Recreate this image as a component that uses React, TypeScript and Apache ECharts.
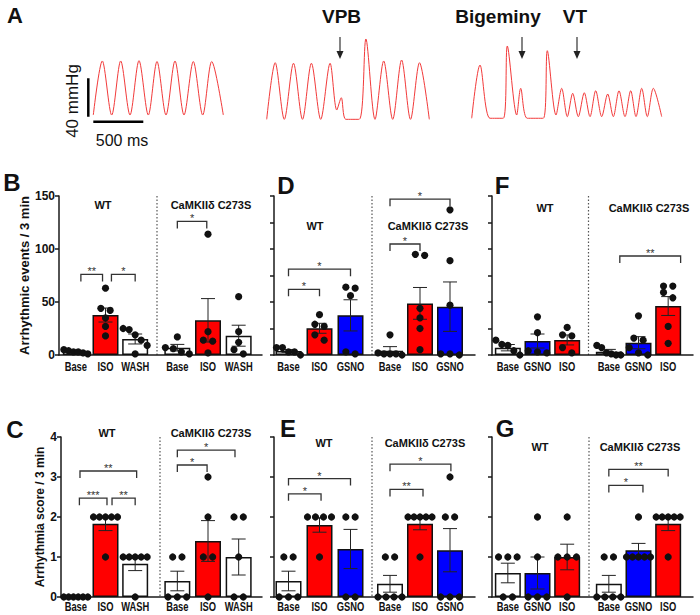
import React, { useEffect, useRef } from 'react';
import * as echarts from 'echarts';

const FONT = '"Liberation Sans", Arial, Helvetica, sans-serif';

// ---------------- Panel A: pressure traces [time ms, pressure mmHg] ----------------
const traceNormal: number[][] = [
  [333, 10.4], [423, 66.7], [517, 10.4], [607, 66.7], [700, 10.4], [790, 67.0], [883, 10.4],
  [970, 66.1], [1060, 10.4], [1150, 66.7], [1240, 10.4], [1333, 66.1], [1427, 10.4], [1517, 66.1], [1633, 10.4],
];
const traceVPB: number[][] = [
  [2067, 5.9], [2152, 64.9], [2243, 5.9], [2335, 64.3], [2425, 5.9], [2514, 64.3], [2607, 5.9],
  [2701, 64.3], [2768, 15.6], [2813, 28.4], [2858, 5.9], [2992, 5.9], [3059, 89.6], [3150, 5.9],
  [3237, 66.7], [3327, 5.9], [3416, 67.7], [3505, 5.9], [3595, 64.9], [3693, 5.9],
];
const traceBigeminyVT: number[][] = [
  [4117, 7.0], [4200, 62.5], [4300, 7.0], [4433, 7.0], [4473, 82.3], [4567, 10.4], [4607, 38.2],
  [4673, 7.0], [4833, 7.0], [4873, 77.4], [4960, 10.4], [5017, 38.2], [5073, 8.7], [5127, 33.0],
  [5183, 8.7], [5243, 33.6], [5300, 8.7], [5357, 35.7], [5417, 8.7], [5477, 32.3], [5533, 8.7],
  [5590, 35.7], [5650, 8.7], [5707, 35.7], [5760, 8.7], [5817, 38.2], [5873, 8.7], [5933, 38.2], [6017, 8.7],
];
const scaleBarPressure: number[][] = [[283, 8.6], [283, 48.6]]; // 40 mmHg
const scaleBarTime: number[][] = [[333, 3.4], [833, 3.4]]; // 500 ms

// ---------------- Categories ----------------
const catsWash = ['Base', 'ISO', 'WASH'];
const catsIsoGsno = ['Base', 'ISO', 'GSNO'];
const catsGsnoIso = ['Base', 'GSNO', 'ISO'];
const groupNames = ['WT', 'CaMKIIδ C273S'];

// ---------------- B: arrhythmic events, ISO / WASH ----------------
const bWtMean = [3.5, 37.7, 15.1];
const bWtSem = [0.7, 6.6, 4.7];
const bWtDots = [[5, 4, 3, 3, 2, 1], [63, 44, 42, 35, 27, 18], [25, 24, 19, 14, 9, 1]];
const bMutMean = [6.9, 32.7, 18.2];
const bMutSem = [3.1, 20.5, 9.9];
const bMutDots = [[17, 7, 6, 3, 1], [114, 22, 14, 13, 2], [55, 22, 12, 5, 1]];
const bBrackets: [number, number, number, number, string][] = [
  [0, 0.17, 0.9, 76, '**'], [0, 1.2, 2.0, 76, '*'], [1, 0, 0.96, 126, '*'],
];

// ---------------- C: arrhythmia score, ISO / WASH ----------------
const cWtMean = [0, 1.83, 0.83];
const cWtSem = [0, 0.17, 0.17];
const cWtDots = [[0, 0, 0, 0, 0, 0], [2, 2, 2, 2, 2, 1], [1, 1, 1, 1, 1, 0]];
const cMutMean = [0.4, 1.4, 1.0];
const cMutSem = [0.245, 0.51, 0.45];
const cMutDots = [[1, 1, 0, 0, 0], [3, 2, 1, 1, 0], [2, 2, 1, 0, 0]];
const cBrackets: [number, number, number, number, string][] = [
  [0, 0.14, 2.05, 3.15, '**'], [0, 0.12, 1.05, 2.47, '***'], [0, 1.22, 2.0, 2.47, '**'],
  [1, 0, 0.97, 3.3, '*'], [1, 0, 1.88, 3.67, '*'],
];

// ---------------- D: arrhythmic events, ISO / GSNO ----------------
const dWtMean = [3.8, 25.2, 37.4];
const dWtSem = [1.3, 4.7, 14.7];
const dWtDots = [[7, 7, 3, 3, 0], [38, 29, 27, 19, 14], [64, 63, 56, 3, 1]];
const dMutMean = [4.0, 48.7, 45.6];
const dMutSem = [3.9, 15.0, 23.3];
const dMutDots = [[19, 2, 1, 1, 1, 0], [95, 94, 44, 35, 25, 5], [137, 89, 47, 1, 1, 0]];
const dBrackets: [number, number, number, number, string][] = [
  [0, 0, 1, 62, '*'], [0, 0, 2, 81, '*'], [1, 0, 1, 104.7, '*'], [1, 0, 2, 147, '*'],
];

// ---------------- E: arrhythmia score, ISO / GSNO ----------------
const eWtMean = [0.4, 1.8, 1.2];
const eWtSem = [0.245, 0.18, 0.49];
const eWtDots = [[1, 1, 0, 0, 0], [2, 2, 2, 2, 1], [2, 2, 0, 0]];
const eMutMean = [0.33, 1.83, 1.17];
const eMutSem = [0.21, 0.15, 0.54];
const eMutDots = [[1, 1, 0, 0, 0, 0], [2, 2, 2, 2, 2, 1], [3, 2, 2, 0, 0, 0]];
const eBrackets: [number, number, number, number, string][] = [
  [0, 0, 1.05, 2.58, '*'], [0, 0, 2, 2.96, '*'], [1, 0, 1.1, 2.69, '**'], [1, 0, 2.03, 3.32, '*'],
];

// ---------------- F: arrhythmic events, GSNO / ISO ----------------
const fWtMean = [6.9, 13.2, 14.2];
const fWtSem = [3.0, 6.6, 4.7];
const fWtDots = [[14, 10, 9, 4, 0], [36, 21, 4, 3, 2], [26, 19, 18, 7, 2]];
const fMutMean = [3.1, 11.6, 46.2];
const fMutSem = [2.2, 5.7, 8.9];
const fMutDots = [[9, 7, 2, 1, 0, 0], [37, 16, 14, 7, 2, 0], [65, 65, 59, 54, 27, 11]];
const fBrackets: [number, number, number, number, string][] = [[1, 0.37, 2.42, 93.4, '**']];

// ---------------- G: arrhythmia score, GSNO / ISO ----------------
const gWtMean = [0.6, 0.6, 1.0];
const gWtSem = [0.245, 0.4, 0.32];
const gWtDots = [[1, 1, 1, 0, 0], [2, 1, 0, 0, 0], [2, 1, 1, 1, 0]];
const gMutMean = [0.33, 1.17, 1.83];
const gMutSem = [0.21, 0.17, 0.17];
const gMutDots = [[1, 1, 0, 0, 0, 0], [2, 1, 1, 1, 1, 1], [2, 2, 2, 2, 2, 1]];
const gBrackets: [number, number, number, number, string][] = [
  [1, 0, 1.15, 2.79, '*'], [1, 0, 2, 3.19, '**'],
];

// ---------------- Styling / layout ----------------
const RED = '#ff0000';
const BLUE = '#0000ff';
const WHITE = '#ffffff';
const AXIS = '#1a1a1a';
const INK = '#111111';
const BR = '#333333';

const EVENTS_NAME = 'Arrhythmic events / 3 min';
const SCORE_NAME = 'Arrhythmia score / 3 min';

type Group = { mean: number[]; sem: number[]; dots: number[][] };
type Panel = {
  id: string; cats: string[]; colors: string[]; max: number; interval: number; showLabels: boolean;
  name?: string; nameGap?: number; nameSize?: number;
  groups: Group[]; brackets: [number, number, number, number, string][];
  top: number; height: number; axisLeft: number; right: number; g1: number[]; g2: number[];
  divider: number; titleY: number; titleX: number[]; letter: number[]; labelOffset: number;
};

const panels: Panel[] = [
  {
    id: 'B', cats: catsWash, colors: [WHITE, RED, WHITE], max: 150, interval: 50, showLabels: true,
    name: EVENTS_NAME, nameGap: 24, nameSize: 13,
    groups: [{ mean: bWtMean, sem: bWtSem, dots: bWtDots }, { mean: bMutMean, sem: bMutSem, dots: bMutDots }],
    brackets: bBrackets, top: 196, height: 159, axisLeft: 59, right: 262, g1: [61, 89], g2: [162, 92],
    divider: 157, titleY: 205, titleX: [103, 211], letter: [12, 182], labelOffset: 11.5,
  },
  {
    id: 'C', cats: catsWash, colors: [WHITE, RED, WHITE], max: 4, interval: 1, showLabels: true,
    name: SCORE_NAME, nameGap: 13, nameSize: 12,
    groups: [{ mean: cWtMean, sem: cWtSem, dots: cWtDots }, { mean: cMutMean, sem: cMutSem, dots: cMutDots }],
    brackets: cBrackets, top: 437, height: 160, axisLeft: 61, right: 262, g1: [61, 89], g2: [162, 92],
    divider: 160, titleY: 433, titleX: [107, 211], letter: [15, 429], labelOffset: 9.5,
  },
  {
    id: 'D', cats: catsIsoGsno, colors: [WHITE, RED, BLUE], max: 150, interval: 25, showLabels: false,
    groups: [{ mean: dWtMean, sem: dWtSem, dots: dWtDots }, { mean: dMutMean, sem: dMutSem, dots: dMutDots }],
    brackets: dBrackets, top: 196, height: 159, axisLeft: 274, right: 475, g1: [273, 93], g2: [375, 90],
    divider: 372, titleY: 226, titleX: [315, 428], letter: [286, 185], labelOffset: 11.5,
  },
  {
    id: 'E', cats: catsIsoGsno, colors: [WHITE, RED, BLUE], max: 4, interval: 1, showLabels: false,
    groups: [{ mean: eWtMean, sem: eWtSem, dots: eWtDots }, { mean: eMutMean, sem: eMutSem, dots: eMutDots }],
    brackets: eBrackets, top: 437, height: 160, axisLeft: 274, right: 475, g1: [273, 93], g2: [375, 90],
    divider: 372, titleY: 443, titleX: [324, 425], letter: [288, 428], labelOffset: 9.5,
  },
  {
    id: 'F', cats: catsGsnoIso, colors: [WHITE, BLUE, RED], max: 150, interval: 25, showLabels: false,
    groups: [{ mean: fWtMean, sem: fWtSem, dots: fWtDots }, { mean: fMutMean, sem: fMutSem, dots: fMutDots }],
    brackets: fBrackets, top: 196, height: 159, axisLeft: 492, right: 693, g1: [493, 89], g2: [594, 89],
    divider: 588.5, titleY: 208, titleX: [545, 649], letter: [502, 185], labelOffset: 11.5,
  },
  {
    id: 'G', cats: catsGsnoIso, colors: [WHITE, BLUE, RED], max: 4, interval: 1, showLabels: false,
    groups: [{ mean: gWtMean, sem: gWtSem, dots: gWtDots }, { mean: gMutMean, sem: gMutSem, dots: gMutDots }],
    brackets: gBrackets, top: 437, height: 160, axisLeft: 492, right: 693, g1: [493, 89], g2: [594, 89],
    divider: 589, titleY: 447, titleX: [540, 640], letter: [505, 428], labelOffset: 9.5,
  },
];

const DOT_R = 3.6;

// GraphPad-like column scatter: dots whose pixel heights are close share a centred row
function swarmOffsets(vals: number[], toPx: (v: number) => number): number[] {
  const order = vals.map((_, i) => i).sort((a, b) => vals[b] - vals[a]);
  const rows: number[][] = [];
  let last = -Infinity;
  order.forEach((i) => {
    const py = toPx(vals[i]);
    if (rows.length && py - last < 6) rows[rows.length - 1].push(i);
    else rows.push([i]);
    last = py;
  });
  const off = new Array(vals.length).fill(0);
  rows.forEach((r) => {
    const n = r.length;
    const sp = n > 1 ? Math.min(9.3, 24 / (n - 1)) : 0;
    r.forEach((i, k) => { off[i] = (k - (n - 1) / 2) * sp; });
  });
  return off;
}

function buildOption() {
  const grids: any[] = [];
  const xAxes: any[] = [];
  const yAxes: any[] = [];
  const series: any[] = [];
  const graphic: any[] = [];

  // ---- Panel A grid: 10 ms per px, 40 mmHg per 38.4 px ----
  grids.push({ left: 60, top: 30, width: 620, height: 95 });
  xAxes.push({ type: 'value', gridIndex: 0, min: 0, max: 6200, show: false });
  yAxes.push({ type: 'value', gridIndex: 0, min: 0, max: 98.96, show: false });
  [traceNormal, traceVPB, traceBigeminyVT].forEach((t) => {
    series.push({
      type: 'line', xAxisIndex: 0, yAxisIndex: 0, data: t, smooth: 0.3,
      symbol: 'none', lineStyle: { color: '#f23a3a', width: 1 }, silent: true,
    });
  });
  [scaleBarPressure, scaleBarTime].forEach((t) => {
    series.push({
      type: 'line', xAxisIndex: 0, yAxisIndex: 0, data: t, symbol: 'none',
      lineStyle: { color: '#000', width: 2.5 }, silent: true,
    });
  });

  // annotations of panel A
  graphic.push({ type: 'text', x: 15, y: 15, style: { text: 'A', font: `bold 22px ${FONT}`, fill: INK, textAlign: 'center', textVerticalAlign: 'middle' } });
  graphic.push({ type: 'text', x: 72, y: 101, rotation: Math.PI / 2, style: { text: '40 mmHg', font: `17px ${FONT}`, fill: INK, textAlign: 'center', textVerticalAlign: 'middle' } });
  graphic.push({ type: 'text', x: 122, y: 140, style: { text: '500 ms', font: `16px ${FONT}`, fill: INK, textAlign: 'center', textVerticalAlign: 'middle' } });
  const arrows: [number, string, number][] = [[340, 'VPB', 341.5], [522, 'Bigeminy', 498], [577, 'VT', 575]];
  arrows.forEach(([ax, label, lx]) => {
    graphic.push({ type: 'text', x: lx, y: 16, style: { text: label, font: `bold 19px ${FONT}`, fill: INK, textAlign: 'center', textVerticalAlign: 'middle' } });
    graphic.push({ type: 'line', shape: { x1: ax, y1: 37, x2: ax, y2: 52 }, style: { stroke: '#333', lineWidth: 1.2 } });
    graphic.push({ type: 'polygon', shape: { points: [[ax - 3.5, 51], [ax + 3.5, 51], [ax, 59]] }, style: { fill: '#222' } });
  });

  // ---- bar panels ----
  panels.forEach((p) => {
    const fi = grids.length;
    const axisLine = { show: true, lineStyle: { color: AXIS, width: 1.5 } };
    grids.push({ left: p.axisLeft, top: p.top, width: p.right - p.axisLeft, height: p.height });
    xAxes.push({
      type: 'value', gridIndex: fi, min: 0, max: 1, axisLine: { ...axisLine, onZero: false },
      axisTick: { show: false }, axisLabel: { show: false }, splitLine: { show: false },
    });
    yAxes.push({
      type: 'value', gridIndex: fi, min: 0, max: p.max, interval: p.interval, axisLine,
      axisTick: { show: true, length: 4, lineStyle: { color: AXIS, width: 1.5 } },
      axisLabel: { show: p.showLabels, margin: 4, fontFamily: FONT, fontWeight: 'bold', fontSize: 12, color: INK },
      splitLine: { show: false },
      name: p.name, nameLocation: 'middle', nameGap: p.nameGap,
      nameTextStyle: { fontFamily: FONT, fontWeight: 'bold', fontSize: p.nameSize, color: INK },
    });

    p.groups.forEach((g, k) => {
      const [left, width] = k === 0 ? p.g1 : p.g2;
      const gi = grids.length;
      grids.push({ left, top: p.top, width, height: p.height });
      xAxes.push({
        type: 'category', gridIndex: gi, data: p.cats, axisLine: { show: false }, axisTick: { show: false },
        axisLabel: { show: false }, splitLine: { show: false },
      });
      yAxes.push({ type: 'value', gridIndex: gi, min: 0, max: p.max, show: false });

      series.push({
        type: 'bar', xAxisIndex: gi, yAxisIndex: gi, barWidth: 26, z: 2, silent: true,
        data: g.mean.map((m, i) => ({ value: m, itemStyle: { color: p.colors[i] } })),
        itemStyle: { borderColor: INK, borderWidth: 1.5 },
      });

      // error bars (mean ± SEM) and the condensed category label under each column
      series.push({
        type: 'custom', xAxisIndex: gi, yAxisIndex: gi, z: 3, silent: true,
        data: g.mean.map((m, i) => [i, m]),
        renderItem: (params: any, api: any) => {
          const i = params.dataIndex;
          const m = g.mean[i];
          const s = g.sem[i];
          const zero = api.coord([i, 0]);
          const children: any[] = [{
            type: 'text', x: zero[0], y: zero[1] + p.labelOffset, scaleX: 0.78,
            style: { text: p.cats[i], font: `bold 12px ${FONT}`, fill: INK, textAlign: 'center', textVerticalAlign: 'middle' },
          }];
          if (s) {
            const top = api.coord([i, m + s]);
            const bot = api.coord([i, m - s]);
            const x = top[0];
            const hw = 7;
            const st = { stroke: '#222', lineWidth: 1 };
            children.push(
              { type: 'line', shape: { x1: x, y1: top[1], x2: x, y2: bot[1] }, style: st },
              { type: 'line', shape: { x1: x - hw, y1: top[1], x2: x + hw, y2: top[1] }, style: st },
              { type: 'line', shape: { x1: x - hw, y1: bot[1], x2: x + hw, y2: bot[1] }, style: st },
            );
          }
          return { type: 'group', children };
        },
      });

      const flat: number[][] = [];
      g.dots.forEach((vals, c) => vals.forEach((v, j) => flat.push([c, v, j])));
      series.push({
        type: 'custom', xAxisIndex: gi, yAxisIndex: gi, z: 4, silent: true,
        data: flat.map((d) => [d[0], d[1]]),
        renderItem: (params: any, api: any) => {
          const [c, v, j] = flat[params.dataIndex];
          const offs = swarmOffsets(g.dots[c], (val) => api.coord([c, val])[1]);
          const pt = api.coord([c, v]);
          return { type: 'circle', shape: { cx: pt[0] + offs[j], cy: pt[1], r: DOT_R }, style: { fill: INK } };
        },
      });

      const brs = p.brackets.filter((b) => b[0] === k);
      if (brs.length) {
        series.push({
          type: 'custom', xAxisIndex: gi, yAxisIndex: gi, z: 5, silent: true,
          data: brs.map((b) => [0, b[3]]),
          renderItem: (params: any, api: any) => {
            const b = brs[params.dataIndex];
            const band = api.size([1, 0])[0];
            const base = api.coord([0, b[3]]);
            const x1 = base[0] + b[1] * band;
            const x2 = base[0] + b[2] * band;
            const y = base[1];
            return {
              type: 'group', children: [
                { type: 'polyline', shape: { points: [[x1, y + 7], [x1, y], [x2, y], [x2, y + 7]] }, style: { stroke: BR, lineWidth: 1.3, fill: 'none' } },
                { type: 'text', x: (x1 + x2) / 2, y: y - 3, style: { text: b[4], font: `11px ${FONT}`, fill: BR, textAlign: 'center', textVerticalAlign: 'middle' } },
              ],
            };
          },
        });
      }

      graphic.push({
        type: 'text', x: p.titleX[k], y: p.titleY,
        style: { text: groupNames[k], font: `bold 11px ${FONT}`, fill: INK, textAlign: 'center', textVerticalAlign: 'middle' },
      });
    });

    graphic.push({
      type: 'line', shape: { x1: p.divider, y1: p.top, x2: p.divider, y2: p.top + p.height },
      style: { stroke: '#555', lineWidth: 1.2, lineDash: [1.5, 2] },
    });
    graphic.push({
      type: 'text', x: p.letter[0], y: p.letter[1],
      style: { text: p.id, font: `bold 24px ${FONT}`, fill: INK, textAlign: 'center', textVerticalAlign: 'middle' },
    });
  });

  return {
    animation: false,
    backgroundColor: '#ffffff',
    textStyle: { fontFamily: FONT },
    grid: grids,
    xAxis: xAxes,
    yAxis: yAxes,
    series,
    graphic,
  };
}

export default function App() {
  const ref = useRef<HTMLDivElement>(null);
  useEffect(() => {
    if (!ref.current) return;
    const chart = echarts.init(ref.current, undefined, { renderer: 'svg' });
    chart.setOption(buildOption() as any);
    return () => chart.dispose();
  }, []);
  return (
    <div
      ref={ref}
      style={{ position: 'fixed', left: 0, top: 0, width: 700, height: 615, background: '#fff' }}
    />
  );
}
